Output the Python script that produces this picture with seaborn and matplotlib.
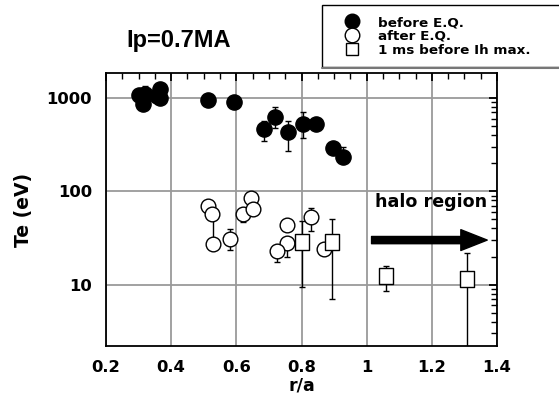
import numpy as np
import pandas as pd
import matplotlib
matplotlib.use("Agg")
import matplotlib.pyplot as plt
import seaborn as sns
from matplotlib.patches import Rectangle
from matplotlib.lines import Line2D
from matplotlib.path import Path
from matplotlib.ticker import MultipleLocator, LogLocator, NullFormatter, FixedLocator

# ---------------- data ----------------
before_r = [0.300, 0.320, 0.315, 0.355, 0.366, 0.366, 0.514, 0.594, 0.686, 0.720, 0.760, 0.806, 0.843, 0.898, 0.926]
before_te = [1080, 1100, 870, 1050, 1250, 1000, 950, 900, 460, 630, 430, 520, 525, 290, 235]
before_lo = [1080, 900, 870, 1050, 1250, 1000, 950, 900, 349, 480, 267, 375, 525, 290, 235]
before_hi = [1080, 1340, 870, 1050, 1250, 1000, 950, 900, 569, 802, 569, 710, 525, 290, 300]

after_r = [0.514, 0.524, 0.529, 0.582, 0.619, 0.646, 0.652, 0.754, 0.754, 0.726, 0.828, 0.868]
after_te = [69, 57, 27, 31, 57, 84, 65, 43, 28, 23, 53, 24]
after_lo = [69, 57, 27, 23.5, 47, 84, 65, 43, 20, 17.6, 37.5, 24]
after_hi = [69, 57, 57, 39.5, 57, 84, 65, 43, 28, 23, 67, 24]

ih_r = [0.800, 0.895, 1.059, 1.308]
ih_te = [28.5, 28.5, 12.5, 11.5]
ih_lo = [9.5, 7.0, 8.5, 1.0]
ih_hi = [48, 51, 16, 22]

labels = ["before E.Q.", "after E.Q.", "1 ms before Ih max."]
x_ticks = [0.2, 0.4, 0.6, 0.8, 1.0, 1.2, 1.4]
x_tick_labels = ["0.2", "0.4", "0.6", "0.8", "1", "1.2", "1.4"]
y_ticks = [10, 100, 1000]
y_tick_labels = ["10", "100", "1000"]

# ---------------- style ----------------
sns.set_theme(style="white")
WIDE = ["DejaVu Sans"]
NARROW = ["Liberation Sans", "DejaVu Sans"]
plt.rcParams["font.family"] = WIDE
plt.rcParams["font.weight"] = "bold"
plt.rcParams["text.color"] = "black"
plt.rcParams["axes.labelcolor"] = "black"
plt.rcParams["xtick.color"] = "black"
plt.rcParams["ytick.color"] = "black"
plt.rcParams["xtick.labelcolor"] = "black"
plt.rcParams["ytick.labelcolor"] = "black"

W, H = 559, 403
fig = plt.figure(figsize=(W / 100, H / 100), dpi=100)
ax = fig.add_axes([106 / W, 1 - 346 / H, (497 - 106) / W, (346 - 73) / H])
ax.set_yscale("log")
ax.set_xlim(0.2, 1.4)
ax.set_ylim(2.2, 1850)

ax.grid(True, which="major", color="#9a9a9a", linewidth=1.3, zorder=0)
ax.set_axisbelow(True)

def errs(te, lo, hi):
    te = np.asarray(te, float)
    return np.vstack([te - np.asarray(lo, float), np.asarray(hi, float) - te])

eb = dict(fmt="none", ecolor="black", elinewidth=1.0, capsize=2.3, capthick=1.0, zorder=2)
ax.errorbar(before_r, before_te, yerr=errs(before_te, before_lo, before_hi), **eb)
ax.errorbar(after_r, after_te, yerr=errs(after_te, after_lo, after_hi), **eb)
ax.errorbar(ih_r, ih_te, yerr=errs(ih_te, ih_lo, ih_hi), **eb)

rect_marker = Path([(-0.44, -0.5), (0.44, -0.5), (0.44, 0.5), (-0.44, 0.5), (-0.44, -0.5)],
                   [Path.MOVETO, Path.LINETO, Path.LINETO, Path.LINETO, Path.CLOSEPOLY])

df_b = pd.DataFrame({"r": before_r, "Te": before_te})
df_a = pd.DataFrame({"r": after_r, "Te": after_te})
df_i = pd.DataFrame({"r": ih_r, "Te": ih_te})

sns.scatterplot(data=df_b, x="r", y="Te", ax=ax, marker="o", s=120, color="black",
                edgecolor="black", linewidth=1.0, zorder=3)
sns.scatterplot(data=df_a, x="r", y="Te", ax=ax, marker="o", s=112, facecolor="white",
                edgecolor="black", linewidth=1.0, zorder=3)
sns.scatterplot(data=df_i, x="r", y="Te", ax=ax, marker=rect_marker, s=135, facecolor="white",
                edgecolor="black", linewidth=1.0, zorder=3)

# ticks
ax.xaxis.set_major_locator(FixedLocator(x_ticks))
ax.set_xticklabels(x_tick_labels)
ax.xaxis.set_minor_locator(MultipleLocator(0.05))
ax.yaxis.set_major_locator(FixedLocator(y_ticks))
ax.set_yticklabels(y_tick_labels)
ax.yaxis.set_minor_locator(LogLocator(base=10, subs=np.arange(2, 10)))
ax.yaxis.set_minor_formatter(NullFormatter())
ax.tick_params(which="both", direction="in", top=True, right=True, color="black",
               labelcolor="black")
ax.tick_params(which="major", length=6, width=1.3, labelsize=11.8, pad=10)
ax.tick_params(which="minor", length=4, width=1.0)
for lab in ax.get_xticklabels() + ax.get_yticklabels():
    lab.set_fontweight("bold")
for sp in ax.spines.values():
    sp.set_color("black")
    sp.set_linewidth(1.3)

ax.set_xlabel("r/a", fontsize=12.5, fontweight="bold", labelpad=1, color="black")
ax.set_ylabel("Te (eV)", fontsize=13.5, fontweight="bold", labelpad=10, color="black")

# annotations
fig.text(178.5 / W, 1 - 47 / H, "Ip=0.7MA", ha="center", va="baseline", fontsize=17,
         fontweight="bold", family=NARROW, color="black")
ax.text(1.197, 68.5, "halo region", ha="center", va="baseline", fontsize=12.6,
        fontweight="bold", color="black")
ax.annotate("", xy=(1.37, 30), xytext=(1.015, 30),
            arrowprops=dict(arrowstyle="simple,head_width=1.5,head_length=1.9,tail_width=0.52",
                            color="black", shrinkA=0, shrinkB=0, mutation_scale=10))

# legend box
fig.patches.append(Rectangle((322 / W, 1 - 67 / H), 0.5, 62 / H, transform=fig.transFigure,
                             facecolor="white", edgecolor="black", linewidth=1.0))
fig.lines.append(Line2D([322 / W, 1.0], [1 - 67.5 / H, 1 - 67.5 / H], transform=fig.transFigure,
                        color="#777777", linewidth=1.5))
handles = [
    Line2D([], [], marker="o", linestyle="none", markersize=10.5, markerfacecolor="black", markeredgecolor="black"),
    Line2D([], [], marker="o", linestyle="none", markersize=10.5, markerfacecolor="white", markeredgecolor="black"),
    Line2D([], [], marker="s", linestyle="none", markersize=9, markerfacecolor="white", markeredgecolor="black"),
]
leg = fig.legend(handles, labels, loc="upper left", bbox_to_anchor=(345 / W, 1 - 16 / H),
                 frameon=False, handlelength=1.0, handletextpad=1.44,
                 labelspacing=0.07, borderpad=0, borderaxespad=0,
                 prop={"weight": "bold", "size": 9.7, "family": WIDE})
for t in leg.get_texts():
    t.set_color("black")

fig.savefig("out.png", dpi=100)
